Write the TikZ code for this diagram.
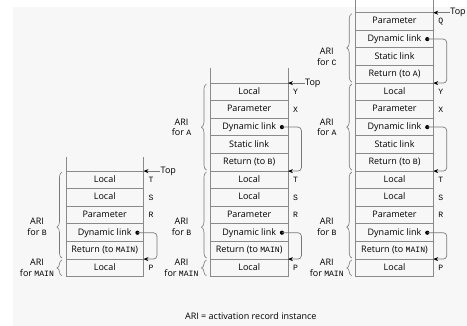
\documentclass[tikz,border=0pt]{standalone}
\usepackage{fontspec}
\setmainfont{Open Sans}
\setmonofont{Liberation Mono}[Scale=0.9]
\usetikzlibrary{positioning,decorations.pathreplacing,arrows.meta}

\definecolor{bggray}{HTML}{F7F7F7}
\definecolor{cellgray}{HTML}{8A8A8A}
\definecolor{linkgray}{HTML}{7A7A7A}

\tikzset{
  cell/.style={draw=cellgray, line width=0.8pt, outer sep=0pt, inner sep=0pt,
    minimum width=77.5pt, minimum height=17.6pt, text height=6.8pt, text depth=1.8pt,
    font=\fontsize{9}{11}\selectfont},
  var/.style={font=\ttfamily\fontsize{9}{10}\selectfont, inner sep=0pt},
  txt/.style={align=center, font=\fontsize{9}{10.5}\selectfont, inner sep=0pt},
  link/.style={draw=linkgray, line width=0.7pt, rounded corners=3.5pt,
    -{Stealth[color=black, length=5pt, width=4pt]}},
  dot/.style={circle, fill=black, inner sep=0pt, minimum size=4.2pt},
  aribrace/.style={decorate, decoration={brace, amplitude=5pt, aspect=#1},
    draw=linkgray, line width=0.6pt},
  aribrace/.default=0.5,
  side/.style={draw=cellgray, line width=0.8pt}
}

\begin{document}
\begin{tikzpicture}[x=1pt,y=-1pt]

  \useasboundingbox (0,0) rectangle (467,326);
  \fill[bggray] (13,7) rectangle (467,326);

%%%%%%%%%%%%%%%%%%%%%%%%%%%%%%%%%%%%%%%%%%
  % Left stack: MAIN has called B
  \begin{scope}[xshift=104.7pt]
    % Cells
    \node[cell] (lT) at (0,179.9) {Local};
    \node[cell, below=0pt of lT] (lS) {Local};
    \node[cell, below=0pt of lS] (lR) {Parameter};
    \node[cell, below=0pt of lR] (lDyn) {Dynamic link};
    \node[cell, below=0pt of lDyn] (lRet) {Return (to \texttt{MAIN})};
    \node[cell, below=0pt of lRet] (lP) {Local};
    \draw[side] (lT.north west) -- ++(0,-14) (lT.north east) -- ++(0,-14);

    % Names
    \node[var, right=5pt of lT] (lTv) {T};
    \node[var, right=5pt of lS] (lSv) {S};
    \node[var, right=5pt of lR] (lRv) {R};
    \node[var, right=5pt of lP] (lPv) {P};

    % Top and dynamic link
    \node[txt, anchor=west] (lTop) at ([xshift=17pt]lT.north east) {Top};
    \draw[link] (lTop) -- (lT.north east);
    \node[dot] (lDot) at ([xshift=-6pt]lDyn.east) {};
    \draw[link] (lDot.center) -- ++(19.5,0) |- (lP.north east);

    % ARIs
    \draw[aribrace=0.36] ([xshift=-4pt,yshift=1pt]lRet.south west) -- ([xshift=-4pt,yshift=-1pt]lT.north west);
    \draw[aribrace] ([xshift=-4pt,yshift=1pt]lP.south west) -- ([xshift=-4pt,yshift=-1pt]lP.north west);
    \node[txt] (lAriB) at ([xshift=-29pt,yshift=6pt]lDyn.west) {ARI\\for \texttt{B}};
    \node[txt] (lAriM) at ([xshift=-29pt]lP.west) {ARI\\for \texttt{MAIN}};
  \end{scope}

%%%%%%%%%%%%%%%%%%%%%%%%%%%%%%%%%%%%%%%%%%
  % Middle stack: B has called A
  \begin{scope}[xshift=249.2pt]
    % Cells
    \node[cell] (mY) at (0,91.9) {Local};
    \node[cell, below=0pt of mY] (mX) {Parameter};
    \node[cell, below=0pt of mX] (mDynA) {Dynamic link};
    \node[cell, below=0pt of mDynA] (mStatA) {Static link};
    \node[cell, below=0pt of mStatA] (mRetA) {Return (to \texttt{B})};
    \node[cell, below=0pt of mRetA] (mT) {Local};
    \node[cell, below=0pt of mT] (mS) {Local};
    \node[cell, below=0pt of mS] (mR) {Parameter};
    \node[cell, below=0pt of mR] (mDynB) {Dynamic link};
    \node[cell, below=0pt of mDynB] (mRetB) {Return (to \texttt{MAIN})};
    \node[cell, below=0pt of mRetB] (mP) {Local};
    \draw[side] (mY.north west) -- ++(0,-15) (mY.north east) -- ++(0,-15);

    % Names
    \node[var, right=5pt of mY] (mYv) {Y};
    \node[var, right=5pt of mX] (mXv) {X};
    \node[var, right=5pt of mT] (mTv) {T};
    \node[var, right=5pt of mS] (mSv) {S};
    \node[var, right=5pt of mR] (mRv) {R};
    \node[var, right=5pt of mP] (mPv) {P};

    % Top and dynamic links
    \node[txt, anchor=west] (mTop) at ([xshift=17pt]mY.north east) {Top};
    \draw[link] (mTop) -- (mY.north east);
    \node[dot] (mDotA) at ([xshift=-6pt]mDynA.east) {};
    \draw[link] (mDotA.center) -- ++(19.5,0) |- (mT.north east);
    \node[dot] (mDotB) at ([xshift=-6pt]mDynB.east) {};
    \draw[link] (mDotB.center) -- ++(19.5,0) |- (mP.north east);

    % ARIs
    \draw[aribrace] ([xshift=-4pt,yshift=1pt]mRetA.south west) -- ([xshift=-4pt,yshift=-1pt]mY.north west);
    \draw[aribrace=0.36] ([xshift=-4pt,yshift=1pt]mRetB.south west) -- ([xshift=-4pt,yshift=-1pt]mT.north west);
    \draw[aribrace] ([xshift=-4pt,yshift=1pt]mP.south west) -- ([xshift=-4pt,yshift=-1pt]mP.north west);
    \node[txt] (mAriA) at ([xshift=-29pt]mDynA.west) {ARI\\for \texttt{A}};
    \node[txt] (mAriB) at ([xshift=-29pt,yshift=6pt]mDynB.west) {ARI\\for \texttt{B}};
    \node[txt] (mAriM) at ([xshift=-29pt]mP.west) {ARI\\for \texttt{MAIN}};
  \end{scope}

%%%%%%%%%%%%%%%%%%%%%%%%%%%%%%%%%%%%%%%%%%
  % Right stack: A has called C
  \begin{scope}[xshift=394.5pt]
    % Cells
    \node[cell] (rQ) at (0,21.5) {Parameter};
    \node[cell, below=0pt of rQ] (rDynC) {Dynamic link};
    \node[cell, below=0pt of rDynC] (rStatC) {Static link};
    \node[cell, below=0pt of rStatC] (rRetC) {Return (to \texttt{A})};
    \node[cell, below=0pt of rRetC] (rY) {Local};
    \node[cell, below=0pt of rY] (rX) {Parameter};
    \node[cell, below=0pt of rX] (rDynA) {Dynamic link};
    \node[cell, below=0pt of rDynA] (rStatA) {Static link};
    \node[cell, below=0pt of rStatA] (rRetA) {Return (to \texttt{B})};
    \node[cell, below=0pt of rRetA] (rT) {Local};
    \node[cell, below=0pt of rT] (rS) {Local};
    \node[cell, below=0pt of rS] (rR) {Parameter};
    \node[cell, below=0pt of rR] (rDynB) {Dynamic link};
    \node[cell, below=0pt of rDynB] (rRetB) {Return (to \texttt{MAIN})};
    \node[cell, below=0pt of rRetB] (rP) {Local};
    \draw[side] (rQ.north west) -- ++(0,-15) (rQ.north east) -- ++(0,-15);

    % Names
    \node[var, right=5pt of rQ] (rQv) {Q};
    \node[var, right=5pt of rY] (rYv) {Y};
    \node[var, right=5pt of rX] (rXv) {X};
    \node[var, right=5pt of rT] (rTv) {T};
    \node[var, right=5pt of rS] (rSv) {S};
    \node[var, right=5pt of rR] (rRv) {R};
    \node[var, right=5pt of rP] (rPv) {P};

    % Top and dynamic links
    \node[txt, anchor=west] (rTop) at ([xshift=17pt]rQ.north east) {Top};
    \draw[link] (rTop) -- (rQ.north east);
    \node[dot] (rDotC) at ([xshift=-6pt]rDynC.east) {};
    \draw[link] (rDotC.center) -- ++(19.5,0) |- (rY.north east);
    \node[dot] (rDotA) at ([xshift=-6pt]rDynA.east) {};
    \draw[link] (rDotA.center) -- ++(19.5,0) |- (rT.north east);
    \node[dot] (rDotB) at ([xshift=-6pt]rDynB.east) {};
    \draw[link] (rDotB.center) -- ++(19.5,0) |- (rP.north east);

    % ARIs
    \draw[aribrace] ([xshift=-4pt,yshift=1pt]rRetC.south west) -- ([xshift=-4pt,yshift=-1pt]rQ.north west);
    \draw[aribrace] ([xshift=-4pt,yshift=1pt]rRetA.south west) -- ([xshift=-4pt,yshift=-1pt]rY.north west);
    \draw[aribrace=0.36] ([xshift=-4pt,yshift=1pt]rRetB.south west) -- ([xshift=-4pt,yshift=-1pt]rT.north west);
    \draw[aribrace] ([xshift=-4pt,yshift=1pt]rP.south west) -- ([xshift=-4pt,yshift=-1pt]rP.north west);
    \node[txt] (rAriC) at ([xshift=-29pt,yshift=-8.8pt]rStatC.north west) {ARI\\for \texttt{C}};
    \node[txt] (rAriA) at ([xshift=-29pt]rDynA.west) {ARI\\for \texttt{A}};
    \node[txt] (rAriB) at ([xshift=-29pt,yshift=6pt]rDynB.west) {ARI\\for \texttt{B}};
    \node[txt] (rAriM) at ([xshift=-29pt]rP.west) {ARI\\for \texttt{MAIN}};
  \end{scope}

  % Legend
  \node[txt] (legend) at (250.8,316) {ARI = activation record instance};

\end{tikzpicture}
\end{document}
